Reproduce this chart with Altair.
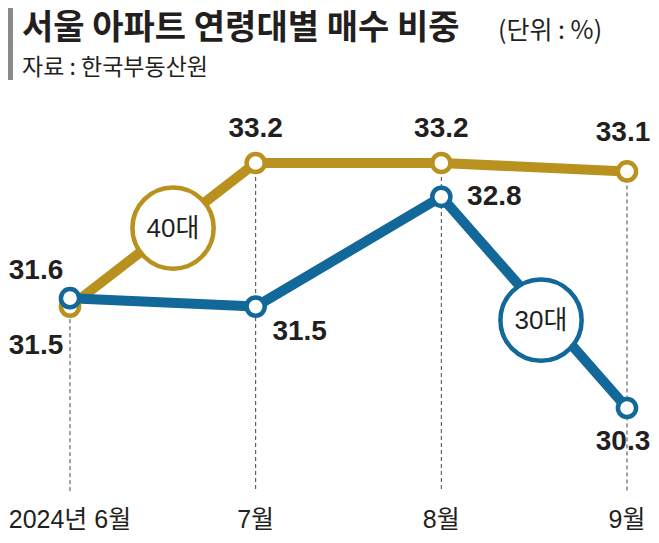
import altair as alt
import pandas as pd

months = ["2024년 6월", "7월", "8월", "9월"]
age40 = [31.5, 33.2, 33.2, 33.1]
age30 = [31.6, 31.5, 32.8, 30.3]

# label offsets (pixels) for each point's value label
dx40 = [-34, 0, 0, -4]
dy40 = [39, -34, -34, -38]
dx30 = [-34, 44, 53, -4]
dy30 = [-27, 25, 0, 34]

GOLD = "#B8911F"
BLUE = "#13689A"
INK = "#231F20"
NUM_FONT = "Liberation Sans, Noto Sans CJK KR"
KR_FONT = "Noto Sans CJK KR"

rows = []
for i, m in enumerate(months):
    rows.append({"idx": i, "month": m, "series": "40대", "value": age40[i]})
    rows.append({"idx": i, "month": m, "series": "30대", "value": age30[i]})
df = pd.DataFrame(rows)

rule_df = pd.DataFrame({
    "idx": list(range(len(months))),
    "top": [max(a, b) for a, b in zip(age40, age30)],
    "bottom": [29.305] * len(months),
})
month_df = pd.DataFrame({"idx": list(range(len(months))), "month": months})

xs = alt.Scale(domain=[-0.3339, 3.1293], nice=False, zero=False)
ys = alt.Scale(domain=[28.7966, 35.0348], nice=False, zero=False)
X = alt.X("idx:Q", scale=xs, axis=None)
Y = alt.Y("value:Q", scale=ys, axis=None)

base = alt.Chart(df)

rules = alt.Chart(rule_df).mark_rule(color="#444444", strokeWidth=1, strokeDash=[4, 3]).encode(
    x=alt.X("idx:Q", scale=xs, axis=None),
    y=alt.Y("top:Q", scale=ys, axis=None),
    y2="bottom:Q",
)

def line(series, color):
    return base.transform_filter(alt.datum.series == series).mark_line(
        color=color, strokeWidth=10, strokeJoin="round", strokeCap="round"
    ).encode(x=X, y=Y)

def pts(series, color):
    return base.transform_filter(alt.datum.series == series).mark_point(
        shape="circle", filled=True, fill="white", stroke=color, strokeWidth=4.5, size=330, opacity=1
    ).encode(x=X, y=Y)

def labels(series, dxs, dys):
    layers = []
    for i in range(len(months)):
        layers.append(
            base.transform_filter((alt.datum.series == series) & (alt.datum.idx == i))
            .mark_text(font=NUM_FONT, fontSize=28, fontWeight="bold", color=INK,
                       align="center", baseline="middle", dx=dxs[i], dy=dys[i])
            .encode(x=X, y=Y, text=alt.Text("value:Q", format=".1f"))
        )
    return layers

def bubble(label, color, xv, yv):
    bdf = pd.DataFrame({"t": [label], "idx": [xv], "value": [yv]})
    c = alt.Chart(bdf).mark_point(
        shape="circle", filled=True, fill="white", stroke=color, strokeWidth=4.5, size=6600, opacity=1
    ).encode(x=X, y=Y)
    t = alt.Chart(bdf).mark_text(
        font=NUM_FONT, fontSize=26, color=INK, align="center", baseline="middle", dy=1
    ).encode(x=X, y=Y, text="t:N")
    return [c, t]

axis_labels = alt.Chart(month_df).mark_text(
    font=NUM_FONT, fontSize=25, color=INK, align="center", baseline="middle"
).encode(x=alt.X("idx:Q", scale=xs, axis=None), y=alt.value(512), text="month:N")

hdr = pd.DataFrame({"t": ["서울 아파트 연령대별 매수 비중"]})
bar = alt.Chart(hdr).mark_rect(color="#8A8A8A").encode(
    x=alt.value(0), x2=alt.value(5), y=alt.value(0), y2=alt.value(72))
title = alt.Chart(hdr).mark_text(
    font=KR_FONT, fontSize=34, fontWeight="bold", color=INK, align="left", baseline="middle"
).encode(x=alt.value(14), y=alt.value(21), text="t:N")
unit = alt.Chart(pd.DataFrame({"t": ["(단위 : %)"]})).mark_text(
    font=KR_FONT, fontSize=25, color=INK, align="left", baseline="middle"
).encode(x=alt.value(490), y=alt.value(23), text="t:N")
sub = alt.Chart(pd.DataFrame({"t": ["자료 : 한국부동산원"]})).mark_text(
    font=KR_FONT, fontSize=23, color=INK, align="left", baseline="middle"
).encode(x=alt.value(14), y=alt.value(60), text="t:N")

layers = [bar, title, unit, sub, rules,
          line("40대", GOLD), line("30대", BLUE),
          pts("40대", GOLD), pts("30대", BLUE)]
layers += bubble("40대", GOLD, 0.555, 32.43)
layers += bubble("30대", BLUE, 2.537, 31.34)
layers += labels("40대", dx40, dy40)
layers += labels("30대", dx30, dy30)
layers += [axis_labels]

chart = alt.layer(*layers).properties(
    width=643, height=527, autosize=alt.AutoSizeParams(type="none"), padding=0
).configure_view(stroke=None)

chart.save("out.html", embed_options={"renderer": "svg", "actions": False})
